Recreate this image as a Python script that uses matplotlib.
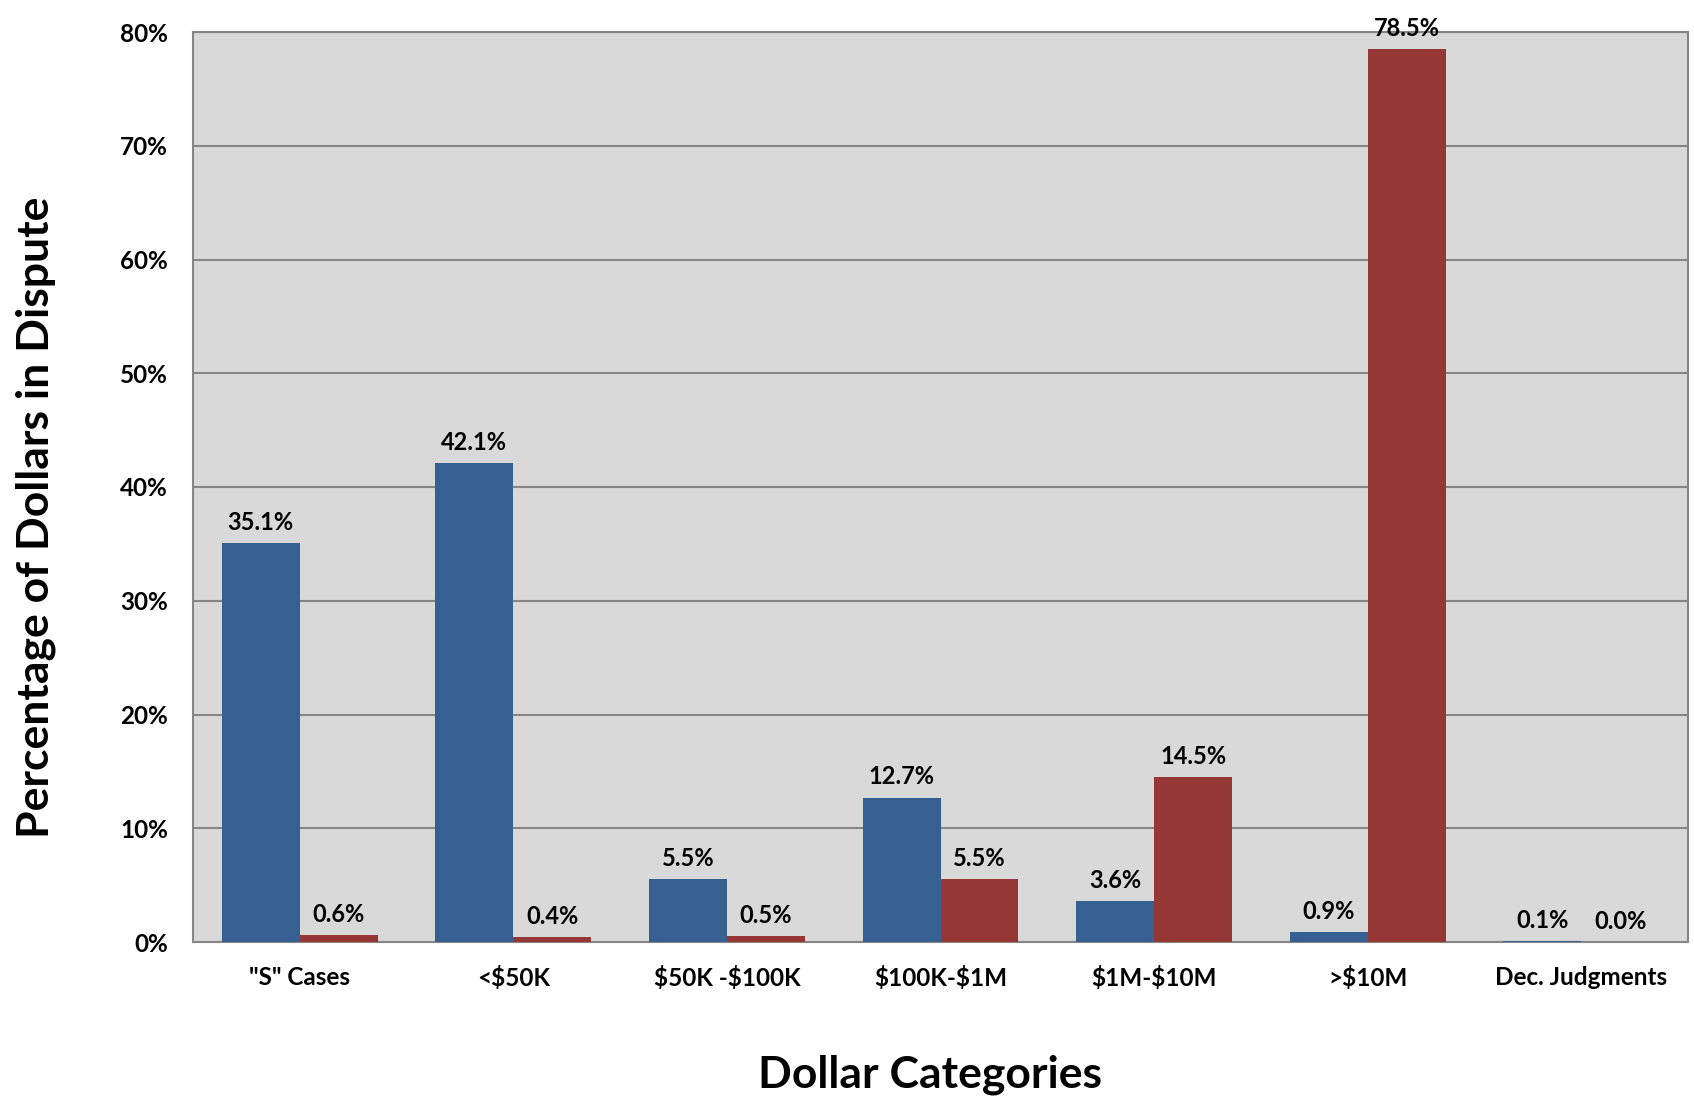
import numpy as np
import matplotlib.pyplot as plt

categories = ['"S" Cases', '<$50K', '$50K -$100K', '$100K-$1M', '$1M-$10M', '>$10M', 'Dec. Judgments']
blue_vals = [35.1, 42.1, 5.5, 12.7, 3.6, 0.9, 0.1]
red_vals = [0.6, 0.4, 0.5, 5.5, 14.5, 78.5, 0.0]

plt.rcParams['font.family'] = ['Lato', 'DejaVu Sans']
plt.rcParams['font.weight'] = 'bold'
plt.rcParams['text.parse_math'] = False

fig = plt.figure(figsize=(16.94, 10.97), dpi=100)
ax = fig.add_axes([193/1694, 1 - 942/1097, (1688-193)/1694, (942-32)/1097])
ax.set_facecolor('#D9D9D9')

x = np.arange(len(categories))
w = 0.365
b1 = ax.bar(x - w/2, blue_vals, w, color='#366092', zorder=3)
b2 = ax.bar(x + w/2, red_vals, w, color='#953735', zorder=3)

for bars, vals in [(b1, blue_vals), (b2, red_vals)]:
    for r, v in zip(bars, vals):
        ax.text(r.get_x() + r.get_width()/2, v + 0.8, f'{v:.1f}%', ha='center', va='bottom',
                fontsize=17, fontweight='bold')

ax.set_xlim(-0.5, len(categories) - 0.5)
ax.set_ylim(0, 80)
ax.set_yticks(np.arange(0, 81, 10))
ax.set_yticklabels([f'{t}%' for t in range(0, 81, 10)], fontsize=17.5, fontweight='bold')
ax.set_xticks(x)
ax.set_xticklabels(categories, fontsize=17.5, fontweight='bold')
ax.tick_params(axis='both', length=0)
ax.tick_params(axis='x', pad=17)
ax.tick_params(axis='y', pad=18)
ax.yaxis.grid(True, color='#868686', linewidth=1.5, zorder=0)
for s in ax.spines.values():
    s.set_color('#868686')
    s.set_linewidth(1.5)

ax.set_xlabel('Dollar Categories', fontsize=32, fontweight='bold', labelpad=47)
ax.set_ylabel('Percentage of Dollars in Dispute', fontsize=32, fontweight='bold', labelpad=46)
ax.xaxis.label.set_x(0.493)
ax.yaxis.label.set_y(0.467)

fig.savefig('out.png', dpi=100)
